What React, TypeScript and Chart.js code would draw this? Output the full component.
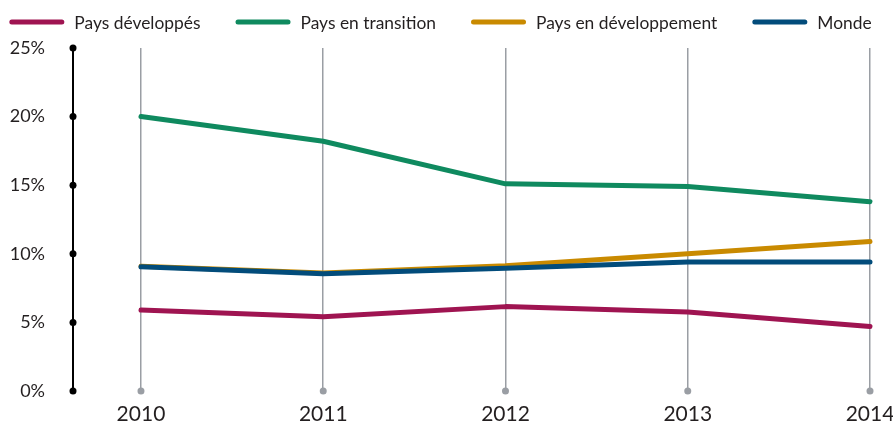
import React, { useEffect, useRef } from 'react';
import { Chart, registerables } from 'chart.js';

Chart.register(...registerables);

const years = [2010, 2011, 2012, 2013, 2014];
const seriesNames = ['Pays développés', 'Pays en transition', 'Pays en développement', 'Monde'];
const developed = [5.9, 5.42, 6.15, 5.75, 4.7];
const transition = [20.0, 18.2, 15.1, 14.9, 13.8];
const developing = [9.1, 8.6, 9.13, 10.0, 10.9];
const world = [9.05, 8.55, 8.94, 9.4, 9.4];
const yTicks = [0, 5, 10, 15, 20, 25];
const colors = ['#9f1451', '#0f8a5f', '#c98a00', '#024c7b'];

const FONT = 'Lato, "Open Sans", sans-serif';
const TEXT = '#231f20';

const customLegend = {
  id: 'customLegend',
  afterDraw(chart: any) {
    const ctx = chart.ctx;
    const ds = chart.data.datasets;
    ctx.save();
    ctx.font = `17.4px ${FONT}`;
    const lineLen = 50;
    const cap = 2.5;
    const textGap = 10;
    const itemGap = 35;
    const widths = ds.map((d: any) => ctx.measureText(d.label).width);
    let total = 0;
    widths.forEach((w: number, i: number) => {
      total += cap * 2 + lineLen + textGap + w + (i < widths.length - 1 ? itemGap : 0);
    });
    let x = (chart.width - total) / 2 - 6;
    const y = 22;
    ds.forEach((d: any, i: number) => {
      ctx.strokeStyle = d.borderColor;
      ctx.lineWidth = 5;
      ctx.lineCap = 'round';
      ctx.beginPath();
      ctx.moveTo(x + cap, y);
      ctx.lineTo(x + cap + lineLen, y);
      ctx.stroke();
      x += cap * 2 + lineLen + textGap;
      ctx.fillStyle = TEXT;
      ctx.textBaseline = 'middle';
      ctx.textAlign = 'left';
      ctx.fillText(d.label, x, y + 1);
      x += widths[i] + itemGap;
    });
    ctx.restore();
  },
};

const axisDots = {
  id: 'axisDots',
  afterDatasetsDraw(chart: any) {
    const ctx = chart.ctx;
    const xs = chart.scales.x;
    const ys = chart.scales.y;
    ctx.save();
    ctx.fillStyle = '#000';
    ys.ticks.forEach((t: any) => {
      const py = ys.getPixelForValue(t.value);
      ctx.beginPath();
      ctx.arc(chart.chartArea.left, py, 3.5, 0, Math.PI * 2);
      ctx.fill();
    });
    ctx.fillStyle = '#9a9ea4';
    xs.ticks.forEach((t: any) => {
      const px = xs.getPixelForValue(t.value);
      ctx.beginPath();
      ctx.arc(px, chart.chartArea.bottom, 3.5, 0, Math.PI * 2);
      ctx.fill();
    });
    ctx.restore();
  },
};

export default function App() {
  const ref = useRef<HTMLCanvasElement | null>(null);
  useEffect(() => {
    document.body.style.margin = '0';
    if (!ref.current) return;
    const all = [developed, transition, developing, world];
    const orders = [1, 2, 3, 0];
    const chart = new Chart(ref.current, {
      type: 'line',
      data: {
        datasets: all.map((vals, i) => ({
          label: seriesNames[i],
          data: years.map((yr, j) => ({ x: yr, y: vals[j] })),
          borderColor: colors[i],
          backgroundColor: colors[i],
          borderWidth: 5,
          borderCapStyle: 'round',
          borderJoinStyle: 'round',
          pointRadius: 0,
          tension: 0,
          clip: false,
          order: orders[i],
        })),
      },
      options: {
        animation: false,
        responsive: false,
        maintainAspectRatio: false,
        layout: { padding: { top: 48, right: 23, bottom: 3, left: 0 } },
        plugins: { legend: { display: false }, tooltip: { enabled: false } },
        scales: {
          x: {
            type: 'linear',
            min: 2009.627,
            max: 2014,
            afterBuildTicks: (scale: any) => {
              scale.ticks = years.map((v) => ({ value: v }));
            },
            afterFit: (scale: any) => {
              scale.height = 36;
              scale.paddingLeft = 0;
              scale.paddingRight = 0;
            },
            ticks: {
              callback: (v: any) => String(v),
              font: { family: FONT, size: 21 },
              color: TEXT,
              padding: 11,
              maxRotation: 0,
              autoSkip: false,
            },
            grid: { display: true, color: '#9a9ea4', lineWidth: 1.5, drawTicks: false },
            border: { display: false },
          },
          y: {
            min: 0,
            max: 25,
            afterBuildTicks: (scale: any) => {
              scale.ticks = yTicks.map((v) => ({ value: v }));
            },
            afterFit: (scale: any) => {
              scale.width = 73;
            },
            ticks: {
              callback: (v: any) => v + '%',
              font: { family: FONT, size: 18 },
              color: TEXT,
              padding: 28,
            },
            grid: { display: false, drawTicks: false },
            border: { display: true, color: '#000', width: 2 },
          },
        },
      },
      plugins: [customLegend, axisDots],
    } as any);
    return () => chart.destroy();
  }, []);
  return (
    <div style={{ width: 893, height: 430 }}>
      <canvas ref={ref} width={893} height={430} style={{ display: 'block' }} />
    </div>
  );
}
